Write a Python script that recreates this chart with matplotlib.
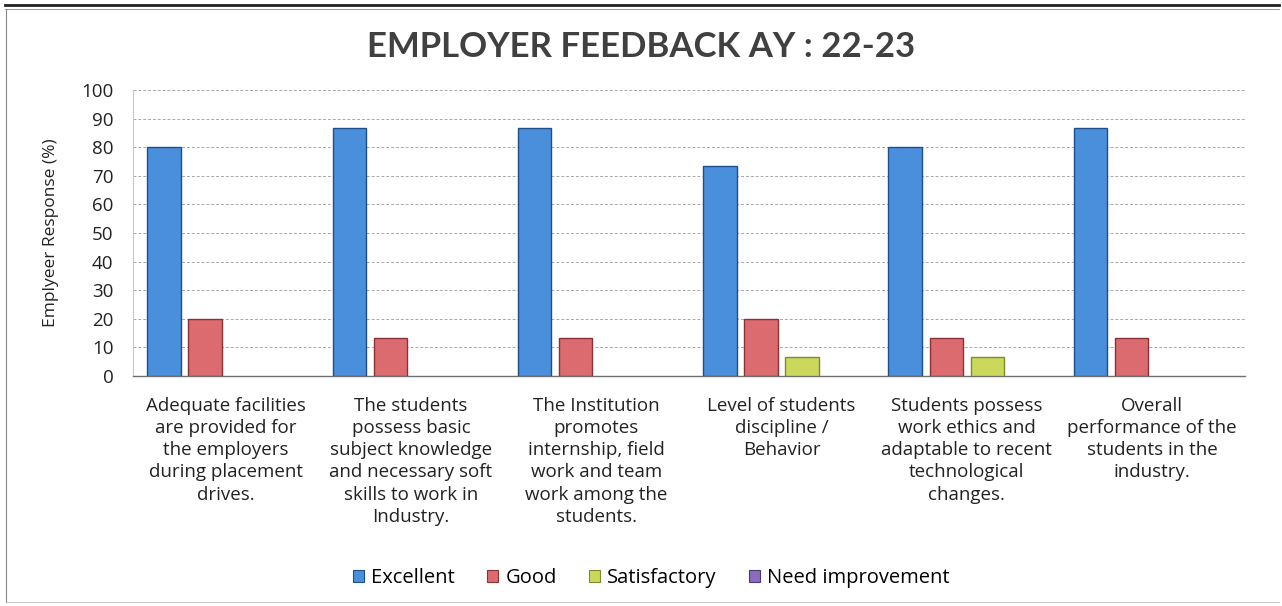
import numpy as np
import matplotlib
matplotlib.use("Agg")
import matplotlib.pyplot as plt
from matplotlib.patches import Rectangle
from matplotlib.lines import Line2D

plt.rcParams['font.family'] = ['Open Sans', 'DejaVu Sans']

# --- DATA ---
categories = [
    "Adequate facilities\nare provided for\nthe employers\nduring placement\ndrives.",
    "The students\npossess basic\nsubject knowledge\nand necessary soft\nskills to work in\nIndustry.",
    "The Institution\npromotes\ninternship, field\nwork and team\nwork among the\nstudents.",
    "Level of students\ndiscipline /\nBehavior",
    "Students possess\nwork ethics and\nadaptable to recent\ntechnological\nchanges.",
    "Overall\nperformance of the\nstudents in the\nindustry.",
]
series_names = ["Excellent", "Good", "Satisfactory", "Need improvement"]
excellent = [80.0, 86.67, 86.67, 73.33, 80.0, 86.67]
good = [20.0, 13.33, 13.33, 20.0, 13.33, 13.33]
satisfactory = [0.0, 0.0, 0.0, 6.67, 6.67, 0.0]
need_improvement = [0.0, 0.0, 0.0, 0.0, 0.0, 0.0]
y_ticks = list(range(0, 101, 10))
# ------------

colors = ["#4a8fdc", "#db6b6e", "#cbd85c", "#8a6bbd"]
edges = ["#1f4f8a", "#8a3236", "#7f8a2a", "#4d3775"]

fig = plt.figure(figsize=(12.82, 6.06), dpi=100)
ax = fig.add_axes([0.1037, 0.3795, 0.8673, 0.472])

x = np.arange(len(categories))
width = 0.18
step = 0.222
all_series = [excellent, good, satisfactory, need_improvement]
for k, vals in enumerate(all_series):
    # empty categories get no outline, so nothing shows on the baseline
    lw = [1.0 if v > 0 else 0.0 for v in vals]
    ax.bar(x + (k - 1.5) * step, vals, width, color=colors[k],
           edgecolor=edges[k], linewidth=lw, zorder=3)

ax.set_xlim(-0.5, len(categories) - 0.5)
ax.set_ylim(0, 100)
ax.set_yticks(y_ticks)
ax.set_yticklabels([str(t) for t in y_ticks], fontsize=13.5, color="#222222")
ax.tick_params(axis='y', length=0, pad=14)
ax.set_xticks(x)
ax.set_xticklabels(categories, fontsize=13.5, color="#222222", linespacing=1.3)
ax.tick_params(axis='x', length=0, pad=15)

ax.yaxis.grid(True, color="#a8a8a8", linestyle=(0, (3, 2)), linewidth=0.7, zorder=0)
for s in ["top", "right"]:
    ax.spines[s].set_visible(False)
ax.spines["left"].set_color("#c8c8c8")
ax.spines["left"].set_linewidth(0.8)
ax.spines["bottom"].set_color("#707070")
ax.spines["bottom"].set_linewidth(1.0)

ax.set_ylabel("Emplyeer Response (%)", fontsize=12.5, color="#222222", labelpad=16)

fig.text(0.5, 0.922, "EMPLOYER FEEDBACK AY : 22-23", ha="center", va="center",
         fontsize=25, fontweight="bold", color="#404040", family="Lato")

handles = [Rectangle((0, 0), 1, 1, facecolor=colors[k], edgecolor=edges[k], linewidth=0.8)
           for k in range(4)]
fig.legend(handles, series_names, loc="center", bbox_to_anchor=(0.508, 0.046),
           ncol=4, frameon=False, fontsize=14.5, handlelength=0.55, handleheight=0.55,
           columnspacing=1.6, handletextpad=0.35)

# outer frame of the chart
fig.add_artist(Line2D([0.004, 0.998], [0.992, 0.992], transform=fig.transFigure,
                      color="#222222", linewidth=2.0))
fig.add_artist(Line2D([0.004, 0.998], [0.985, 0.985], transform=fig.transFigure,
                      color="#888888", linewidth=0.6))
fig.add_artist(Line2D([0.005, 0.005], [0.006, 0.985], transform=fig.transFigure,
                      color="#888888", linewidth=0.8))
fig.add_artist(Line2D([0.005, 0.998], [0.006, 0.006], transform=fig.transFigure,
                      color="#bbbbbb", linewidth=0.6))

fig.savefig("out.png", dpi=100)
